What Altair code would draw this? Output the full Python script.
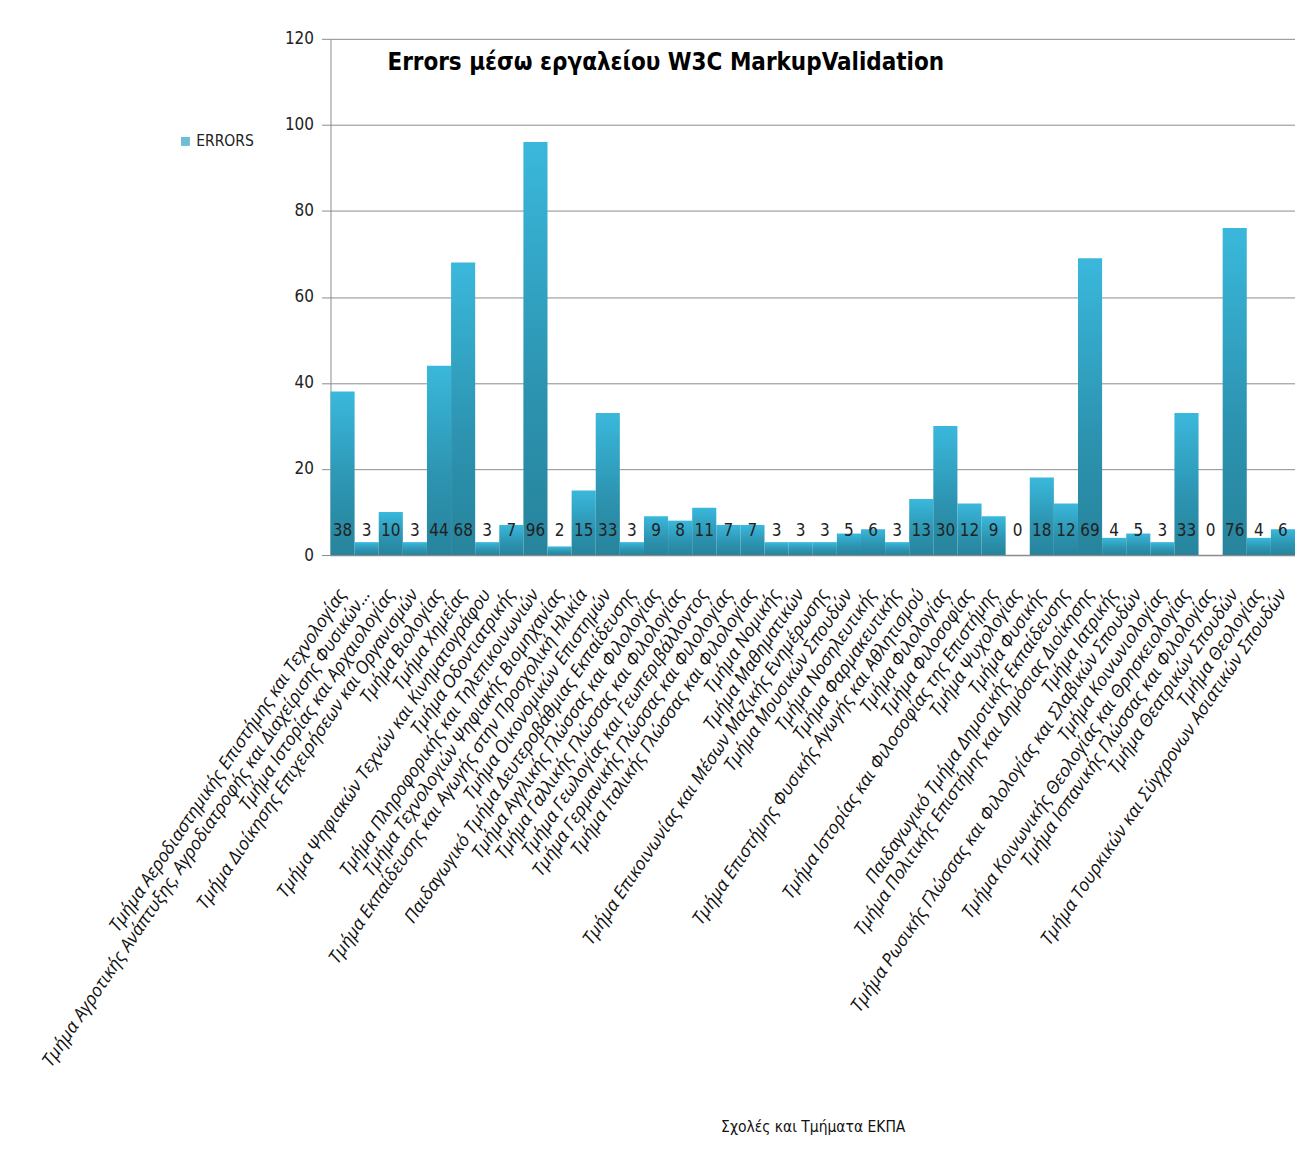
import altair as alt
import pandas as pd

departments = [
    "Τμήμα Αεροδιαστημικής Επιστήμης και Τεχνολογίας",
    "Τμήμα Αγροτικής Ανάπτυξης, Αγροδιατροφής και Διαχείρισης Φυσικών...",
    "Τμήμα Ιστορίας και Αρχαιολογίας",
    "Τμήμα Διοίκησης Επιχειρήσεων και Οργανισμών",
    "Τμήμα Βιολογίας",
    "Τμήμα Χημείας",
    "Τμήμα Ψηφιακών Τεχνών και Κινηματογράφου",
    "Τμήμα Οδοντιατρικής",
    "Τμήμα Πληροφορικής και Τηλεπικοινωνιών",
    "Τμήμα Τεχνολογιών Ψηφιακής Βιομηχανίας",
    "Τμήμα Εκπαίδευσης και Αγωγής στην Προσχολική Ηλικία",
    "Τμήμα Οικονομικών Επιστημών",
    "Παιδαγωγικό Τμήμα Δευτεροβάθμιας Εκπαίδευσης",
    "Τμήμα Αγγλικής Γλώσσας και Φιλολογίας",
    "Τμήμα Γαλλικής Γλώσσας και Φιλολογίας",
    "Τμήμα Γεωλογίας και Γεωπεριβάλλοντος",
    "Τμήμα Γερμανικής Γλώσσας και Φιλολογίας",
    "Τμήμα Ιταλικής Γλώσσας και Φιλολογίας",
    "Τμήμα Νομικής",
    "Τμήμα Μαθηματικών",
    "Τμήμα Επικοινωνίας και Μέσων Μαζικής Ενημέρωσης",
    "Τμήμα Μουσικών Σπουδών",
    "Τμήμα Νοσηλευτικής",
    "Τμήμα Φαρμακευτικής",
    "Τμήμα Επιστήμης Φυσικής Αγωγής και Αθλητισμού",
    "Τμήμα Φιλολογίας",
    "Τμήμα Φιλοσοφίας",
    "Τμήμα Ιστορίας και Φιλοσοφίας της Επιστήμης",
    "Τμήμα Ψυχολογίας",
    "Τμήμα Φυσικής",
    "Παιδαγωγικό Τμήμα Δημοτικής Εκπαίδευσης",
    "Τμήμα Πολιτικής Επιστήμης και Δημόσιας Διοίκησης",
    "Τμήμα Ιατρικής",
    "Τμήμα Ρωσικής Γλώσσας και Φιλολογίας και Σλαβικών Σπουδών",
    "Τμήμα Κοινωνιολογίας",
    "Τμήμα Κοινωνικής Θεολογίας και Θρησκειολογίας",
    "Τμήμα Ισπανικής Γλώσσας και Φιλολογίας",
    "Τμήμα Θεατρικών Σπουδών",
    "Τμήμα Θεολογίας",
    "Τμήμα Τουρκικών και Σύγχρονων Ασιατικών Σπουδών",
]
errors = [38, 3, 10, 3, 44, 68, 3, 7, 96, 2, 15, 33, 3, 9, 8, 11, 7, 7, 3, 3,
          3, 5, 6, 3, 13, 30, 12, 9, 0, 18, 12, 69, 4, 5, 3, 33, 0, 76, 4, 6]
series_name = ["ERRORS"]
y_ticks = [0, 20, 40, 60, 80, 100, 120]

df = pd.DataFrame({"dept": departments, "errors": errors, "series": series_name * len(errors)})

NARROW = "'Liberation Sans Narrow', 'DejaVu Sans Condensed', 'Roboto Condensed', 'Arial Narrow', sans-serif"

grad = alt.Gradient(
    gradient="linear",
    stops=[alt.GradientStop(color="#3ab8dc", offset=0),
           alt.GradientStop(color="#2c93b0", offset=0.6),
           alt.GradientStop(color="#27849c", offset=1)],
    x1=0, x2=0, y1=0, y2=1,
)

x_enc = alt.X(
    "dept:N", sort=None, scale=alt.Scale(paddingInner=0, paddingOuter=0),
    axis=alt.Axis(
        title="Σχολές και Τμήματα ΕΚΠΑ", labelAngle=-56, labelAlign="right",
        labelBaseline="middle", labelFont="Open Sans", labelFontStyle="italic",
        labelFontSize=18, labelColor="#111111", labelLimit=0, labelPadding=36,
        ticks=False, grid=False, domainColor="#8c8c8c", domainWidth=1.5,
        titleFont=NARROW, titleFontSize=15.5, titleFontWeight="normal",
        titleColor="#111111", titleY=572, titleBaseline="middle",
    ),
)

bars = alt.Chart(df).mark_bar(fill=grad).encode(
    x=x_enc,
    y=alt.Y("errors:Q", scale=alt.Scale(domain=[0, 120], nice=False),
            axis=alt.Axis(title=None, values=y_ticks, labelFont=NARROW,
                          labelFontSize=17, labelColor="#222222", labelPadding=8,
                          tickSize=9, tickColor="#8c8c8c", domainColor="#8c8c8c",
                          grid=True, gridColor="#8c8c8c", gridWidth=1)),
)

legend_layer = alt.Chart(df).transform_filter("false").mark_square().encode(
    x=alt.X("dept:N", sort=None),
    y=alt.Y("errors:Q"),
    fill=alt.Fill("series:N", title=None,
                  scale=alt.Scale(domain=series_name, range=["#2fa2c3"]),
                  legend=alt.Legend(orient="none", legendX=-153, legendY=95,
                                    symbolType="square", symbolSize=80, symbolStrokeWidth=0,
                                    labelOffset=3,
                                    labelFont=NARROW, labelFontSize=15.5,
                                    labelColor="#222222")),
)

labels = alt.Chart(df).mark_text(
    font=NARROW, fontSize=17, color="#222222", baseline="bottom", dy=-15
).encode(
    x=alt.X("dept:N", sort=None),
    y=alt.datum(0),
    text="errors:Q",
)

chart = alt.layer(bars, legend_layer, labels).properties(
    width=966, height=517,
    autosize=alt.AutoSizeParams(type="none"),
    padding={"left": 323, "top": 30, "right": 0, "bottom": 600},
    title=alt.TitleParams(
        "Errors μέσω εργαλείου  W3C MarkupValidation",
        anchor="start", frame="group", dx=57, offset=-45,
        font=NARROW, fontSize=24, fontWeight="bold", color="#000000",
    ),
).configure_view(stroke=None)

chart.save("out.html", embed_options={"renderer": "svg", "actions": False})
